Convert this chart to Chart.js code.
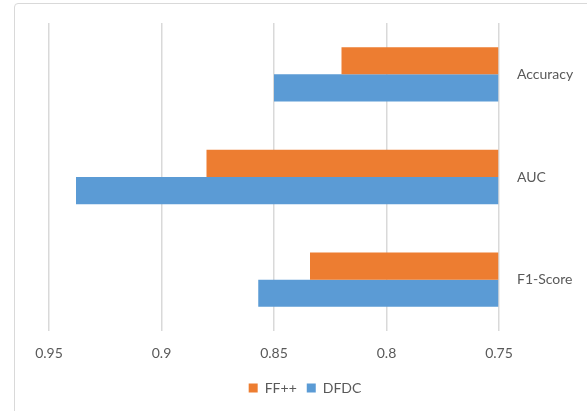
<!DOCTYPE html>
<html>
<head>
<meta charset="utf-8">
<script src="https://cdn.jsdelivr.net/npm/chart.js@4.4.1/dist/chart.umd.min.js"></script>
<style>
  html, body { margin: 0; padding: 0; background: #fff; overflow: hidden; }
  #frame {
    position: absolute; left: 14px; top: 3px; width: 620px; height: 440px;
    border: 1px solid #d9d9d9; border-radius: 4px; box-sizing: border-box;
  }
  #wrap { position: absolute; left: 0; top: 0; width: 587px; height: 411px; }
</style>
</head>
<body>
<div id="frame"></div>
<div id="wrap"><canvas id="chartCanvas" width="587" height="411"></canvas></div>
<script>
// categories and series
const categories = ['Accuracy', 'AUC', 'F1-Score'];
const ffppValues = [0.82, 0.88, 0.834];
const dfdcValues = [0.85, 0.938, 0.857];
const seriesNames = ['FF++', 'DFDC'];

const textColor = '#595959';
const fontFamily = 'Lato, "Open Sans", sans-serif';

const data = {
  labels: categories,
  datasets: [
    {
      label: seriesNames[0],
      data: ffppValues,
      backgroundColor: '#ED7D31',
      categoryPercentage: 0.53,
      barPercentage: 1.0,
      base: 0.75
    },
    {
      label: seriesNames[1],
      data: dfdcValues,
      backgroundColor: '#5B9BD5',
      categoryPercentage: 0.53,
      barPercentage: 1.0,
      base: 0.75
    }
  ]
};

// legend is centred on the whole frame, not on the padded area
const legendShift = {
  id: 'legendShift',
  afterLayout(chart) {
    chart.legend.left -= 13;
    chart.legend.right -= 13;
  }
};

const options = {
  indexAxis: 'y',
  responsive: false,
  animation: false,
  layout: { padding: { left: 49, right: 0, top: 23, bottom: 6 } },
  scales: {
    x: {
      reverse: true,
      min: 0.75,
      max: 0.95,
      ticks: {
        stepSize: 0.05,
        color: textColor,
        font: { family: fontFamily, size: 14 },
        padding: 14,
        callback: (v) => Number(v.toFixed(2)).toString()
      },
      grid: { color: '#d9d9d9', lineWidth: 1.5, drawTicks: false },
      border: { display: false },
      afterFit: (scale) => { scale.height = 40; }
    },
    y: {
      position: 'right',
      ticks: {
        color: textColor,
        font: { family: fontFamily, size: 14 },
        padding: 10
      },
      grid: { display: false },
      border: { display: false },
      afterFit: (scale) => { scale.width = 88; }
    }
  },
  plugins: {
    legend: {
      position: 'bottom',
      labels: {
        color: textColor,
        font: { family: fontFamily, size: 14 },
        boxWidth: 9,
        boxHeight: 9,
        padding: 10
      }
    },
    tooltip: { enabled: false }
  }
};

new Chart(document.getElementById('chartCanvas'), {
  type: 'bar',
  data: data,
  options: options,
  plugins: [legendShift]
});
</script>
</body>
</html>
